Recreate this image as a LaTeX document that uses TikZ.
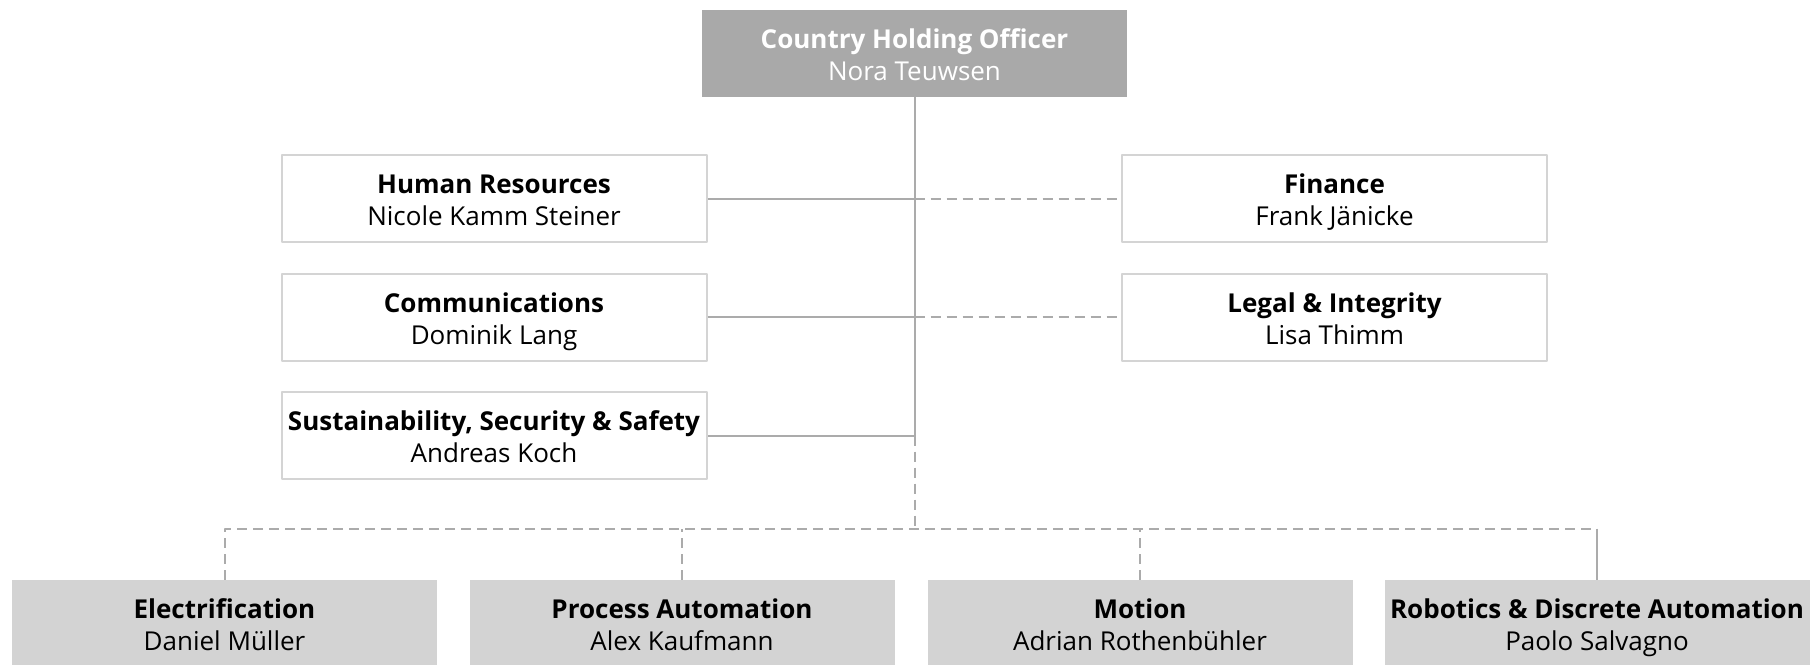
\documentclass[tikz,border=0pt]{standalone}
\usepackage{fontspec}
\setmainfont{Open Sans}
\definecolor{headgray}{HTML}{A9A9A9}
\definecolor{unitgray}{HTML}{D3D3D3}
\definecolor{framegray}{HTML}{D4D4D4}
\definecolor{linegray}{HTML}{ABABAB}
\begin{document}
\begin{tikzpicture}[x=0.5pt,y=-0.5pt,line join=round,
	box/.style={minimum width=212.5pt,minimum height=43.5pt,inner sep=0pt,align=center,text height=29pt,text depth=2pt,font=\fontsize{13}{15.8}\selectfont},
	head/.style={box,fill=headgray,text=white},
	staff/.style={box,fill=white,draw=framegray,line width=1pt},
	unit/.style={box,fill=unitgray},
	solidlink/.style={draw=linegray,line width=1pt},
	dashlink/.style={solidlink,dash pattern=on 5pt off 3pt}]
	\useasboundingbox (0,0) rectangle (1818,664);
	% top
	\node[head] (cho) at (914.5,53) {\textbf{Country Holding Officer}\\Nora Teuwsen};
	% staff functions
	\node[staff] (hr) at (494,198.5) {\textbf{Human Resources}\\Nicole Kamm Steiner};
	\node[staff] (comm) at (494,317) {\textbf{Communications}\\Dominik Lang};
	\node[staff] (sss) at (494,435.5) {\textbf{Sustainability, Security \& Safety}\\Andreas Koch};
	\node[staff] (fin) at (1334.5,198.5) {\textbf{Finance}\\Frank Jänicke};
	\node[staff] (legal) at (1334.5,317) {\textbf{Legal \& Integrity}\\Lisa Thimm};
	% business areas
	\node[unit] (elec) at (224.5,623.5) {\textbf{Electrification}\\Daniel Müller};
	\node[unit] (proc) at (682,623.5) {\textbf{Process Automation}\\Alex Kaufmann};
	\node[unit] (mot) at (1140,623.5) {\textbf{Motion}\\Adrian Rothenbühler};
	\node[unit] (robo) at (1597,623.5) {\textbf{Robotics \& Discrete Automation}\\Paolo Salvagno};
	\coordinate (bus) at (0,528.5);
	\coordinate (jhr) at (hr.east -| cho.south);
	\coordinate (jcomm) at (comm.east -| cho.south);
	\coordinate (jsss) at (sss.east -| cho.south);
	% links
	\draw[solidlink] (cho.south) |- (sss.east);
	\draw[solidlink] (hr.east) -- (jhr);
	\draw[solidlink] (comm.east) -- (jcomm);
	\draw[dashlink] (jhr) -- (fin.west);
	\draw[dashlink] (jcomm) -- (legal.west);
	\draw[dashlink] (jsss) -- (cho.south |- bus);
	\draw[dashlink] (elec.north) |- (robo.north |- bus);
	\draw[dashlink] (proc.north) -- (proc.north |- bus);
	\draw[dashlink] (mot.north) -- (mot.north |- bus);
	\draw[solidlink] (robo.north |- bus) -- (robo.north);
\end{tikzpicture}
\end{document}
